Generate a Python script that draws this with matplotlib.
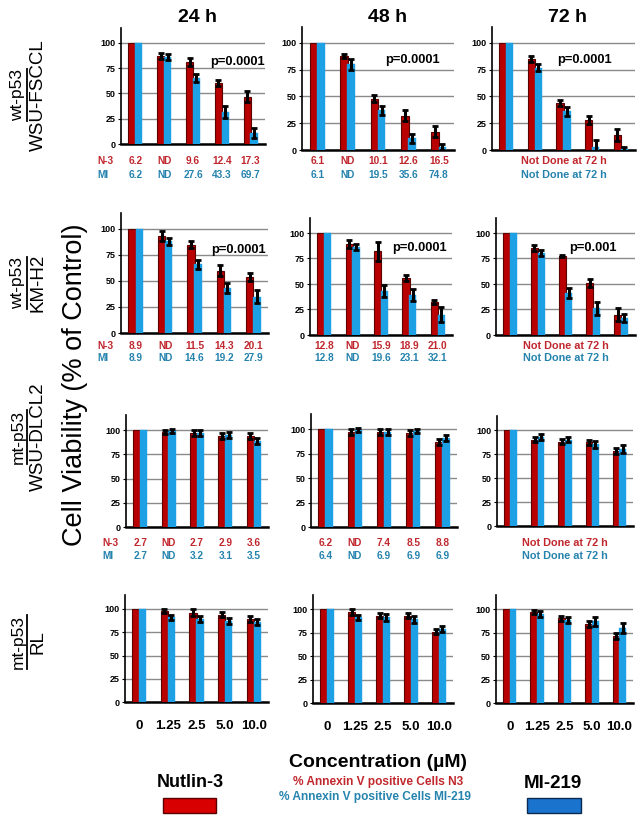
import matplotlib.pyplot as plt
import numpy as np
from matplotlib.lines import Line2D
from matplotlib.patches import Rectangle
from matplotlib.transforms import blended_transform_factory

# data: rows = cell lines, inner lists = 24 h, 48 h, 72 h
cell_lines = ['WSU-FSCCL', 'KM-H2', 'WSU-DLCL2', 'RL']
p53_status = ['wt-p53', 'wt-p53', 'mt-p53', 'mt-p53']
times = ['24 h', '48 h', '72 h']
conc_labels = ['0', '1.25', '2.5', '5.0', '10.0']

nutlin = [
    [[100, 87, 81, 60, 47], [100, 88, 48, 32, 17], [100, 85, 44, 28, 14]],
    [[100, 93, 85, 60, 54], [100, 89, 82, 56, 32], [100, 85, 77, 51, 20]],
    [[100, 98, 97, 94, 94], [100, 97, 97, 96, 87], [100, 90, 88, 87, 78]],
    [[100, 98, 96, 94, 89], [100, 97, 93, 93, 76], [100, 97, 90, 84, 71]],
]
nutlin_err = [
    [[0, 3, 4, 3, 5], [0, 2, 3, 5, 5], [0, 3, 3, 4, 6]],
    [[0, 5, 3, 5, 4], [0, 4, 9, 3, 2], [0, 3, 1, 4, 6]],
    [[0, 2, 3, 3, 3], [0, 3, 3, 3, 3], [0, 3, 3, 3, 3]],
    [[0, 2, 4, 3, 3], [0, 3, 3, 3, 3], [0, 2, 3, 3, 3]],
]
mi219 = [
    [[100, 86, 65, 32, 11], [100, 80, 37, 11, 3], [100, 77, 36, 3, 1]],
    [[100, 88, 66, 43, 35], [100, 86, 43, 39, 20], [100, 80, 41, 26, 17]],
    [[100, 99, 97, 95, 89], [100, 99, 97, 98, 91], [100, 93, 90, 85, 80]],
    [[100, 91, 89, 87, 86], [100, 91, 91, 89, 79], [100, 95, 88, 87, 80]],
]
mi219_err = [
    [[0, 3, 4, 6, 5], [0, 5, 4, 4, 3], [0, 3, 4, 6, 2]],
    [[0, 3, 4, 5, 6], [0, 3, 6, 6, 7], [0, 3, 5, 6, 4]],
    [[0, 2, 3, 3, 3], [0, 2, 3, 2, 3], [0, 3, 3, 4, 4]],
    [[0, 3, 3, 3, 3], [0, 3, 4, 4, 3], [0, 3, 3, 5, 5]],
]

# % Annexin V positive cells (None = not done)
annexin_n3 = [
    [['6.2', 'ND', '9.6', '12.4', '17.3'], ['6.1', 'ND', '10.1', '12.6', '16.5'], None],
    [['8.9', 'ND', '11.5', '14.3', '20.1'], ['12.8', 'ND', '15.9', '18.9', '21.0'], None],
    [['2.7', 'ND', '2.7', '2.9', '3.6'], ['6.2', 'ND', '7.4', '8.5', '8.8'], None],
    None,
]
annexin_mi = [
    [['6.2', 'ND', '27.6', '43.3', '69.7'], ['6.1', 'ND', '19.5', '35.6', '74.8'], None],
    [['8.9', 'ND', '14.6', '19.2', '27.9'], ['12.8', 'ND', '19.6', '23.1', '32.1'], None],
    [['2.7', 'ND', '3.2', '3.1', '3.5'], ['6.4', 'ND', '6.9', '6.9', '6.9'], None],
    None,
]
p_values = [
    ['p=0.0001', 'p=0.0001', 'p=0.0001'],
    ['p=0.0001', 'p=0.0001', 'p=0.001'],
    [None, None, None],
    [None, None, None],
]

W, H = 642, 822
RED, RED_EDGE = '#b80000', '#5c0000'
BLUE = '#1da1e4'
RED_TXT, BLUE_TXT = '#c0282e', '#2583ae'
NARROW = ['Liberation Sans Narrow', 'Liberation Sans', 'DejaVu Sans']
plt.rcParams['font.family'] = ['Liberation Sans', 'DejaVu Sans']

# pixel boxes of each panel: left, right, y of 0, y of 100
boxes = [
    [(121, 265, 144, 43), (302, 454, 150, 43), (492, 635, 150, 43)],
    [(121, 268, 333, 229), (310, 452, 335, 233), (496, 635, 335, 233)],
    [(126, 268, 527, 430), (311, 457, 527, 429), (497, 633, 526, 430)],
    [(125, 268, 702, 609), (313, 453, 703, 609), (496, 633, 703, 609)],
]
p_pos = [
    [(3.55, 81), (3.12, 84), (2.75, 84)],
    [(3.5, 80), (3.37, 85), (2.99, 85)],
]
annex_y = [(161, 175), (346, 358), (543, 556)]
label_y = [95, 283, 437, 642]
title_x = [197, 388, 567]
YTOP = 115

fig = plt.figure(figsize=(W / 100, H / 100), dpi=100)

for r in range(4):
    for c in range(3):
        left, right, y0, y100 = boxes[r][c]
        scale = (y0 - y100) / 100
        ax = fig.add_axes([left / W, 1 - y0 / H, (right - left) / W, YTOP * scale / H])
        x = np.arange(5)
        ax.bar(x - 0.12, nutlin[r][c], 0.25, color=RED, edgecolor=RED_EDGE, linewidth=0.8, zorder=3)
        ax.bar(x + 0.12, mi219[r][c], 0.25, color=BLUE, edgecolor=BLUE, linewidth=0.3, zorder=3)
        for xs, vals, errs in [(x - 0.12, nutlin[r][c], nutlin_err[r][c]),
                               (x + 0.12, mi219[r][c], mi219_err[r][c])]:
            errs = np.array(errs)
            ax.errorbar(xs[1:], np.array(vals)[1:], yerr=errs[1:], fmt='none', ecolor='black',
                        elinewidth=2.2, capsize=2.2, capthick=2, zorder=4)
        ax.set_xlim(-0.5, 4.5)
        ax.set_ylim(0, YTOP)
        ax.set_yticks([0, 25, 50, 75, 100])
        ax.yaxis.grid(True, color='#8a8a8a', linewidth=1.0, zorder=0)
        ax.set_axisbelow(True)
        for s in ['top', 'right']:
            ax.spines[s].set_visible(False)
        ax.spines['left'].set_linewidth(1.2)
        ax.spines['bottom'].set_linewidth(1.8)
        ax.tick_params(axis='y', length=2, width=0.8, pad=2)
        for lab in ax.get_yticklabels():
            lab.set_fontfamily(NARROW)
            lab.set_fontweight('bold')
            lab.set_fontsize(6.5)
        ax.tick_params(axis='x', length=0)
        if r == 3:
            ax.set_xticks(x)
            ax.set_xticklabels(conc_labels, fontsize=9.5, fontweight='bold', family=NARROW)
            ax.tick_params(axis='x', pad=13)
        else:
            ax.set_xticks([])

        if r == 0:
            fig.text(title_x[c] / W, 1 - 17 / H, times[c], fontsize=14, fontweight='bold',
                     ha='center', va='center')
        if p_values[r][c]:
            px, py = p_pos[r][c]
            ax.text(px, py, p_values[r][c], fontsize=9.3, fontweight='bold', ha='center',
                    va='center', zorder=5)

        if r < 3:
            tr = blended_transform_factory(ax.transData, fig.transFigure)
            ya, yb = annex_y[r]
            if annexin_n3[r][c] is None:
                ax.text(2, 1 - ya / H, 'Not Done at 72 h', transform=tr, ha='center', va='center',
                        fontsize=7.8, fontweight='bold', color=RED_TXT, family=NARROW)
                ax.text(2, 1 - yb / H, 'Not Done at 72 h', transform=tr, ha='center', va='center',
                        fontsize=7.8, fontweight='bold', color=BLUE_TXT, family=NARROW)
            else:
                for i in range(5):
                    ax.text(i, 1 - ya / H, annexin_n3[r][c][i], transform=tr, ha='center',
                            va='center', fontsize=7.3, fontweight='bold', color=RED_TXT, family=NARROW)
                    ax.text(i, 1 - yb / H, annexin_mi[r][c][i], transform=tr, ha='center',
                            va='center', fontsize=7.3, fontweight='bold', color=BLUE_TXT, family=NARROW)
            if c == 0:
                lx = (left - 24) / W
                fig.text(lx, 1 - ya / H, 'N-3', ha='left', va='center', fontsize=7.3,
                         fontweight='bold', color=RED_TXT, family=NARROW)
                fig.text(lx, 1 - yb / H, 'MI', ha='left', va='center', fontsize=7.3,
                         fontweight='bold', color=BLUE_TXT, family=NARROW)

# row labels
for r in range(4):
    yc = 1 - label_y[r] / H
    t = fig.text(18 / W, yc, p53_status[r], rotation=90, ha='center', va='center', fontsize=12.5)
    fig.text(38 / W, yc, cell_lines[r], rotation=90, ha='center', va='center', fontsize=13.5)
    fig.canvas.draw()
    bb = t.get_window_extent().transformed(fig.transFigure.inverted())
    fig.add_artist(Line2D([26.5 / W, 26.5 / W], [bb.y0, bb.y1], color='black', linewidth=1.3))

fig.text(75 / W, 1 - 385 / H, 'Cell Viability (% of Control)', rotation=90, ha='center',
         va='center', fontsize=19.5)

fig.text(378 / W, 1 - 762 / H, 'Concentration (\u00b5M)', ha='center', va='center',
         fontsize=14, fontweight='bold')
fig.text(378 / W, 1 - 782 / H, '% Annexin V positive Cells N3', ha='center', va='center',
         fontsize=8.6, fontweight='bold', color=RED_TXT)
fig.text(375 / W, 1 - 797 / H, '% Annexin V positive Cells MI-219', ha='center', va='center',
         fontsize=8.6, fontweight='bold', color=BLUE_TXT)

fig.text(190 / W, 1 - 782 / H, 'Nutlin-3', ha='center', va='center', fontsize=13,
         fontweight='bold')
fig.add_artist(Rectangle((163 / W, 1 - 813 / H), 53 / W, 15 / H, transform=fig.transFigure,
                         facecolor='#d80000', edgecolor='#5a0000', linewidth=1))
fig.text(553 / W, 1 - 783 / H, 'MI-219', ha='center', va='center', fontsize=13.5,
         fontweight='bold')
fig.add_artist(Rectangle((527 / W, 1 - 813 / H), 54 / W, 15 / H, transform=fig.transFigure,
                         facecolor='#1a73cc', edgecolor='#0a2a50', linewidth=1))

fig.savefig('out.png', dpi=100, facecolor='white')
